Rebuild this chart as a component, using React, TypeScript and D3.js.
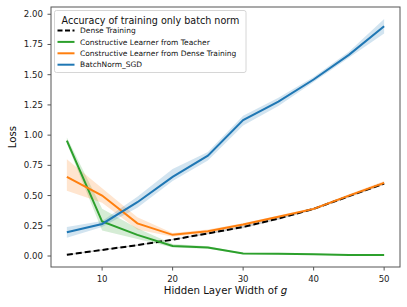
import React from 'react';
import * as d3 from 'd3';

const widths = [5, 10, 15, 20, 25, 30, 35, 40, 45, 50];

const denseMean = [0.01, 0.05, 0.09, 0.135, 0.187, 0.24, 0.31, 0.39, 0.495, 0.6];
const denseLo = [0.005, 0.045, 0.085, 0.13, 0.18, 0.23, 0.3, 0.38, 0.485, 0.59];
const denseHi = [0.015, 0.055, 0.095, 0.14, 0.194, 0.25, 0.32, 0.4, 0.505, 0.61];

const teacherMean = [0.955, 0.285, 0.175, 0.083, 0.07, 0.02, 0.018, 0.015, 0.008, 0.008];
const teacherLo = [0.93, 0.21, 0.14, 0.07, 0.06, 0.015, 0.013, 0.01, 0.004, 0.004];
const teacherHi = [0.98, 0.39, 0.23, 0.1, 0.08, 0.025, 0.023, 0.02, 0.012, 0.012];

const fromDenseMean = [0.655, 0.5, 0.27, 0.175, 0.205, 0.26, 0.325, 0.39, 0.5, 0.605];
const fromDenseLo = [0.54, 0.44, 0.22, 0.16, 0.19, 0.25, 0.315, 0.38, 0.49, 0.59];
const fromDenseHi = [0.8, 0.56, 0.32, 0.19, 0.22, 0.27, 0.335, 0.4, 0.51, 0.62];

const bnMean = [0.196, 0.265, 0.445, 0.655, 0.83, 1.125, 1.277, 1.46, 1.664, 1.9];
const bnLo = [0.15, 0.24, 0.4, 0.62, 0.79, 1.08, 1.24, 1.44, 1.64, 1.84];
const bnHi = [0.24, 0.29, 0.49, 0.72, 0.86, 1.16, 1.31, 1.48, 1.69, 1.96];

const xTicks = [10, 20, 30, 40, 50];
const yTicks = [0, 0.25, 0.5, 0.75, 1.0, 1.25, 1.5, 1.75, 2.0];

const series = [
  { name: 'Dense Training', mean: denseMean, lo: denseLo, hi: denseHi, color: '#000000', dash: '6,3' },
  { name: 'Constructive Learner from Teacher', mean: teacherMean, lo: teacherLo, hi: teacherHi, color: '#2ca02c', dash: null },
  { name: 'Constructive Learner from Dense Training', mean: fromDenseMean, lo: fromDenseLo, hi: fromDenseHi, color: '#ff7f0e', dash: null },
  { name: 'BatchNorm_SGD', mean: bnMean, lo: bnLo, hi: bnHi, color: '#1f77b4', dash: null },
];

const W = 407;
const H = 307;
const box = { left: 51, top: 7, right: 400, bottom: 267 };
const font = '"DejaVu Sans", sans-serif';

export default function App() {
  const x = d3.scaleLinear().domain([2.75, 52.25]).range([box.left, box.right]);
  const y = d3.scaleLinear().domain([-0.091, 2.06]).range([box.bottom, box.top]);

  const line = d3.line<number>().x((_, i) => x(widths[i])).y((d) => y(d));

  return (
    <svg width={W} height={H} style={{ position: 'absolute', left: 0, top: 0, background: '#fff' }} fontFamily={font}>
      <rect x={0} y={0} width={W} height={H} fill="#fff" />
      {/* bands */}
      {series.map((s) => {
        const area = d3.area<number>()
          .x((_, i) => x(widths[i]))
          .y0((_, i) => y(s.lo[i]))
          .y1((_, i) => y(s.hi[i]));
        return <path key={s.name + 'band'} d={area(s.mean) || ''} fill={s.color} opacity={0.2} />;
      })}
      {/* lines */}
      {series.map((s) => (
        <path
          key={s.name}
          d={line(s.mean) || ''}
          fill="none"
          stroke={s.color}
          strokeWidth={2}
          strokeDasharray={s.dash || undefined}
        />
      ))}
      {/* spines */}
      <rect x={box.left} y={box.top} width={box.right - box.left} height={box.bottom - box.top} fill="none" stroke="#555" strokeWidth={1} />
      {/* x axis */}
      {xTicks.map((t) => (
        <g key={'x' + t}>
          <line x1={x(t)} x2={x(t)} y1={box.bottom} y2={box.bottom + 3.5} stroke="#555" />
          <text x={x(t)} y={282} fontSize={8.6} textAnchor="middle" fill="#222">{t}</text>
        </g>
      ))}
      {/* y axis */}
      {yTicks.map((t) => (
        <g key={'y' + t}>
          <line x1={box.left - 3.5} x2={box.left} y1={y(t)} y2={y(t)} stroke="#555" />
          <text x={box.left - 8} y={y(t)} dy="0.35em" fontSize={8.6} textAnchor="end" fill="#222">{t.toFixed(2)}</text>
        </g>
      ))}
      <text x={(box.left + box.right) / 2} y={294} fontSize={10.2} textAnchor="middle" fill="#111">
        Hidden Layer Width of <tspan fontStyle="italic">g</tspan>
      </text>
      <text transform={`translate(16,${(box.top + box.bottom) / 2}) rotate(-90)`} fontSize={10.2} textAnchor="middle" fill="#111">
        Loss
      </text>
      {/* legend */}
      <g>
        <rect x={54.5} y={10.5} width={191.5} height={62} rx={2} fill="#fff" fillOpacity={0.85} stroke="#ccc" strokeWidth={0.8} />
        <text x={150.5} y={24} fontSize={9.6} textAnchor="middle" fill="#111">Accuracy of training only batch norm</text>
        {series.map((s, i) => {
          const ly = 30.5 + i * 11.4;
          return (
            <g key={'lg' + s.name}>
              <line x1={57.5} x2={74.5} y1={ly} y2={ly} stroke={s.color} strokeWidth={2} strokeDasharray={s.dash ? '5,2.5' : undefined} />
              <text x={80} y={ly} dy="0.35em" fontSize={7.5} fill="#111">{s.name}</text>
            </g>
          );
        })}
      </g>
    </svg>
  );
}
